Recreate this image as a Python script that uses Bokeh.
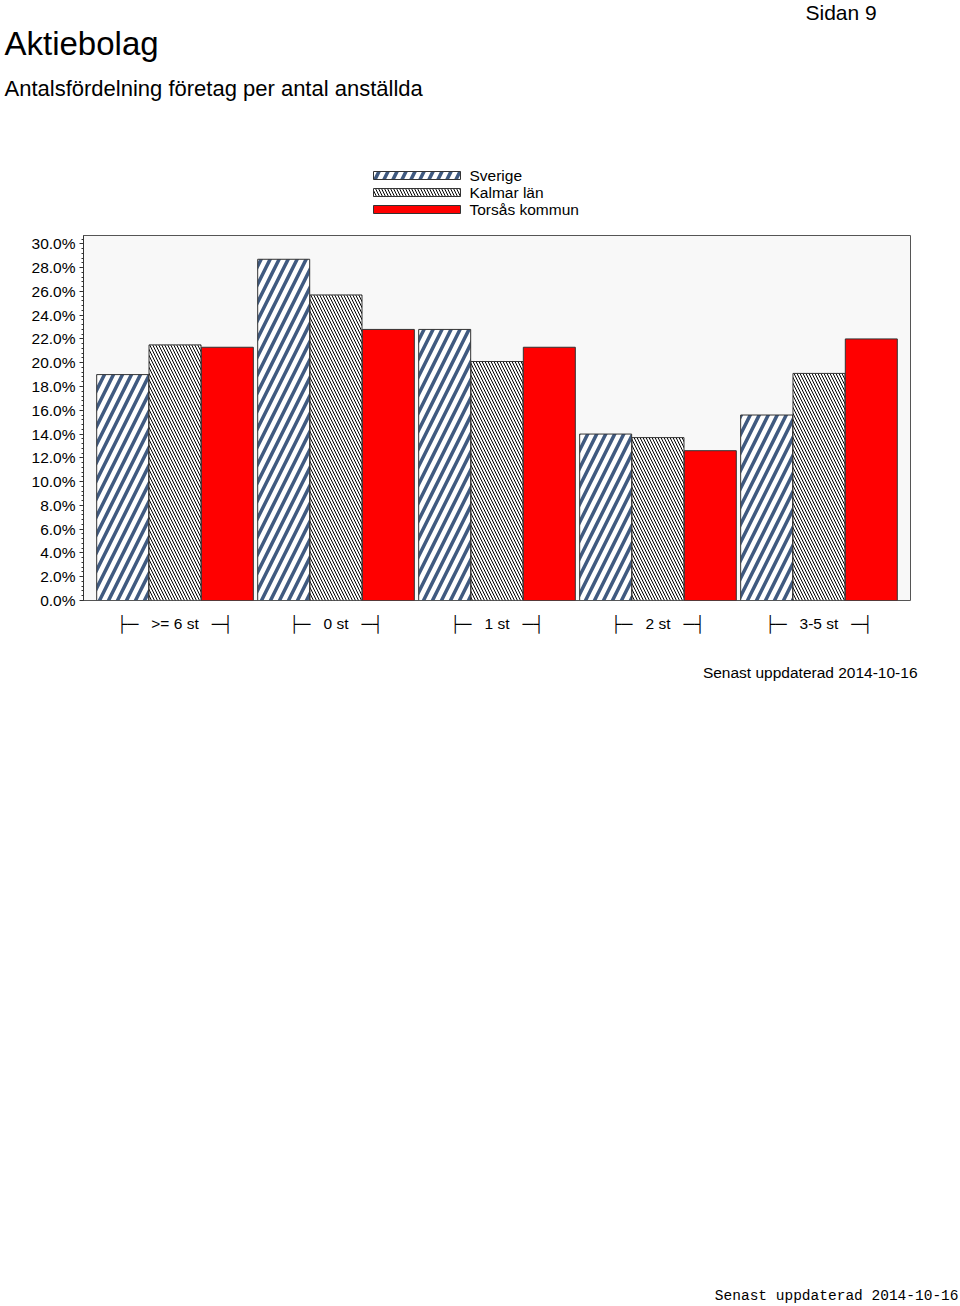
from bokeh.plotting import figure
from bokeh.layouts import column
from bokeh.models import FactorRange, Range1d, PrintfTickFormatter, ColumnDataSource
from bokeh.core.properties import value
from bokeh.transform import dodge
from bokeh.embed import file_html
from bokeh.resources import INLINE

categories = [">= 6 st", "0 st", "1 st", "2 st", "3-5 st"]
sverige = [19.0, 28.7, 22.8, 14.0, 15.6]
kalmar = [21.5, 25.7, 20.1, 13.7, 19.1]
torsas = [21.3, 22.8, 21.3, 12.6, 22.0]
series_names = ["Sverige", "Kalmar län", "Torsås kommun"]
page_title = "Aktiebolag"
page_subtitle = "Antalsfördelning företag per antal anställda"
page_number = "Sidan 9"
updated = "Senast uppdaterad 2014-10-16"

FONT = "Liberation Sans"
W = 960
FS = "15.5px"

styles = [
    dict(fill_color="white", line_color="#333333", hatch_pattern="/",
         hatch_color="#405a80", hatch_scale=18, hatch_weight=3.5),
    dict(fill_color="white", line_color="#333333", hatch_pattern="\\",
         hatch_color="#000000", hatch_scale=6, hatch_weight=1),
    dict(fill_color="#ff0000", line_color="#333333"),
]


def blank(h):
    f = figure(width=W, height=h, x_range=Range1d(0, W), y_range=Range1d(h, 0),
               x_axis_type=None, y_axis_type=None, min_border=0, frame_align=False,
               output_backend="svg", toolbar_location=None)
    f.grid.visible = False
    f.outline_line_color = None
    return f


def txt(f, x, y, s, size, align="left", font=FONT):
    f.text(x=[x], y=[y], text=[s], text_font=value(font), text_font_size=value(size),
           text_color="black", text_align=align, text_baseline="middle")


# ---- header with titles and legend ----
top = blank(230)
txt(top, 805, 12, page_number, "21px")
txt(top, 4, 43, page_title, "33px")
txt(top, 4, 88, page_subtitle, "22px")
for i, name in enumerate(series_names):
    yc = 175 + 17 * i
    top.quad(left=[373], right=[460], top=[yc - 4], bottom=[yc + 4], line_width=1, **styles[i])
    txt(top, 469, yc, name, FS)

# ---- main chart ----
sp = "\u00a0" * 3
labels = ["\u251c\u2500" + sp + c + sp + "\u2500\u2524" for c in categories]
source = ColumnDataSource(dict(cat=labels, sverige=sverige, kalmar=kalmar, torsas=torsas))

p = figure(x_range=FactorRange(factors=labels, range_padding=0.0274),
           y_range=Range1d(0, 30.7),
           width=W, height=430,
           min_border_left=83, min_border_right=50,
           min_border_top=5, min_border_bottom=60, frame_align=False,
           output_backend="svg", toolbar_location=None)

bw = 0.323
for off, col, st in zip([-0.325, 0.0, 0.325], ["sverige", "kalmar", "torsas"], styles):
    p.vbar(x=dodge("cat", off, range=p.x_range), top=col, width=bw, source=source,
           line_width=1, **st)

p.background_fill_color = "#f8f8f8"
p.outline_line_color = "#555555"
p.xgrid.visible = False
p.ygrid.visible = False

p.yaxis.ticker.desired_num_ticks = 16
p.yaxis.ticker.num_minor_ticks = 5
p.yaxis.formatter = PrintfTickFormatter(format="%.1f%%")
p.yaxis.major_label_text_font = FONT
p.yaxis.major_label_text_font_size = FS
p.yaxis.major_label_text_color = "black"
p.yaxis.axis_line_color = "#333333"
p.yaxis.major_tick_line_color = "#333333"
p.yaxis.minor_tick_line_color = "#333333"
p.yaxis.major_tick_out = 4
p.yaxis.major_tick_in = 0
p.yaxis.minor_tick_out = 2
p.yaxis.minor_tick_in = 0
p.yaxis.major_label_standoff = 4

p.xaxis.axis_line_color = None
p.xaxis.major_tick_line_color = None
p.xaxis.major_label_standoff = 8
p.xaxis.major_label_text_font = FONT
p.xaxis.major_label_text_font_size = FS
p.xaxis.major_label_text_color = "black"

# ---- footer ----
bot = blank(646)
txt(bot, 917, 12, updated, FS, align="right")
txt(bot, 958, 635, updated, "14.5px", align="right", font="Liberation Mono")

layout = column(top, p, bot, spacing=0)
open("out.html", "w").write(file_html(layout, INLINE))
